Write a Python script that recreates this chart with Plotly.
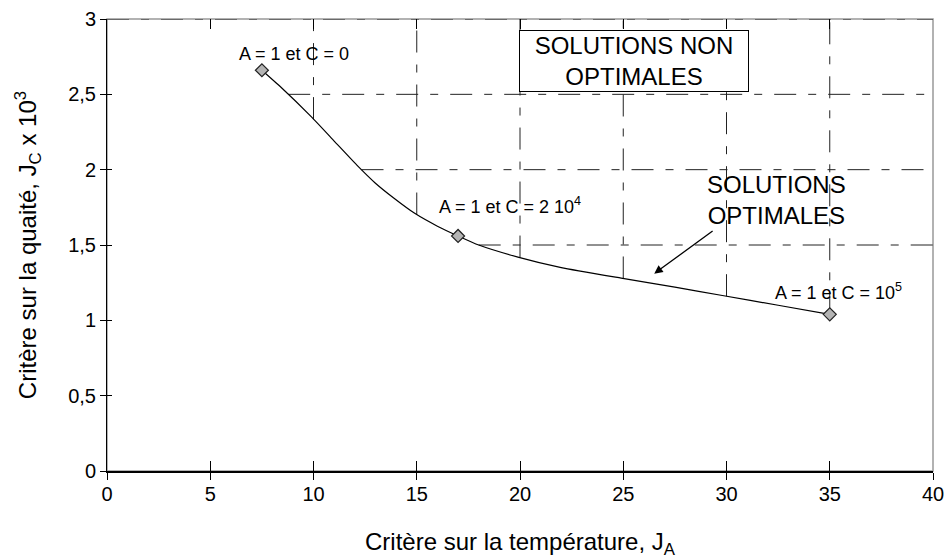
import numpy as np
import plotly.graph_objects as go

# ---- data ----
curve_x = [7.5, 8.4, 9.9, 11.0, 12.1, 13.0, 13.9, 14.9, 16.0, 17.0, 18.0, 19.9,
           22.0, 24.9, 27.5, 29.8, 32.5, 35.0]
curve_y = [2.66, 2.55, 2.35, 2.19, 2.03, 1.91, 1.81, 1.71, 1.625, 1.56, 1.50, 1.42,
           1.35, 1.28, 1.22, 1.165, 1.10, 1.04]

point_x = [7.5, 17.0, 35.0]
point_y = [2.66, 1.56, 1.04]
point_labels = ["A = 1 et C = 0", "A = 1 et C = 2 10<sup>4</sup>", "A = 1 et C = 10<sup>5</sup>"]
label_x = [9.06, 19.5, 35.4]
label_y = [2.77, 1.76, 1.19]

grid_vx = [10, 15, 20, 25, 30, 35]
grid_hy = [1.5, 2.0, 2.5]

x_range = [0, 40]
y_range = [0, 3]
x_ticks = [0, 5, 10, 15, 20, 25, 30, 35, 40]
y_ticks = [0, 0.5, 1, 1.5, 2, 2.5, 3]

FONT = "Arial, 'Liberation Sans', sans-serif"

cx = np.array(curve_x)
cy = np.array(curve_y)

# gridlines only in the region above the curve (non-optimal region)
gx, gy = [], []
for v in grid_vx:
    yb = float(np.interp(v, cx, cy))
    gx += [v, v, None]
    gy += [yb, y_range[1], None]
for h in grid_hy:
    xl = float(np.interp(h, cy[::-1], cx[::-1]))
    gx += [xl, x_range[1], None]
    gy += [h, h, None]
gx += [x_range[0], x_range[1], None]
gy += [y_range[1], y_range[1], None]

fig = go.Figure()

fig.add_trace(go.Scatter(
    x=gx, y=gy, mode="lines",
    line=dict(color="#222222", width=1, dash="22px,12px,8px,12px"),
    hoverinfo="skip", showlegend=False,
))

fig.add_trace(go.Scatter(
    x=curve_x, y=curve_y, mode="lines",
    line=dict(color="black", width=1.2, shape="spline", smoothing=0.5),
    hoverinfo="skip", showlegend=False,
))

fig.add_trace(go.Scatter(
    x=point_x, y=point_y, mode="markers",
    marker=dict(symbol="diamond", size=10, color="#b4b4b4",
                line=dict(color="#222222", width=1.2)),
    showlegend=False,
))

# dummy trace to activate overlay axes (crossing ticks)
fig.add_trace(go.Scatter(
    x=curve_x, y=curve_y, xaxis="x2", yaxis="y2", mode="lines",
    line=dict(color="rgba(0,0,0,0)"), hoverinfo="skip", showlegend=False,
))

for lx, ly, txt in zip(label_x, label_y, point_labels):
    fig.add_annotation(x=lx, y=ly, text=txt, showarrow=False,
                       font=dict(family=FONT, size=18, color="black"))

fig.add_annotation(x=25.5, y=2.72, text="SOLUTIONS NON<br>OPTIMALES", showarrow=False,
                   font=dict(family=FONT, size=24, color="black"),
                   bordercolor="black", borderwidth=1, bgcolor="white",
                   borderpad=1, width=226, align="center")

fig.add_annotation(x=32.4, y=1.80, text="SOLUTIONS<br>OPTIMALES", showarrow=False,
                   font=dict(family=FONT, size=24, color="black"), align="center")

fig.add_annotation(x=26.5, y=1.31, ax=29.4, ay=1.60, axref="x", ayref="y",
                   xref="x", yref="y", text="", showarrow=True,
                   arrowhead=2, arrowsize=1.3, arrowwidth=1.3, arrowcolor="black")

fig.add_shape(type="rect", xref="x domain", yref="y domain", x0=0, x1=1, y0=0, y1=1,
              line=dict(color="#999999", width=1.5), layer="below")

fig.update_layout(
    width=946, height=560,
    margin=dict(l=107, r=13, t=19, b=89),
    paper_bgcolor="white", plot_bgcolor="white",
    separators=", ",
    font=dict(family=FONT, size=20, color="black"),
    xaxis=dict(range=x_range, tickvals=x_ticks, ticks="outside", ticklen=7,
               tickcolor="black", showline=True, linecolor="black", linewidth=1.8,
               showgrid=False, zeroline=False, tickfont=dict(size=20), automargin=False,
               ticklabelstandoff=-3,
               title=dict(text="Critère sur la température, J<sub>A</sub>",
                          font=dict(size=24), standoff=29)),
    yaxis=dict(range=y_range, tickvals=y_ticks, ticks="outside", ticklen=6,
               tickcolor="black", showline=True, linecolor="black", linewidth=1,
               showgrid=False, zeroline=False, tickfont=dict(size=20), automargin=False,
               title=dict(text="Critère sur la quaité, J<sub>C</sub> x 10<sup>3</sup>",
                          font=dict(size=24), standoff=24)),
    xaxis2=dict(range=x_range, tickvals=x_ticks, overlaying="x", side="bottom",
                anchor="y2", ticks="inside", ticklen=10, tickcolor="black",
                mirror="ticks", showline=False, showticklabels=False,
                showgrid=False, zeroline=False),
    yaxis2=dict(range=y_range, tickvals=y_ticks, overlaying="y", side="left",
                anchor="x2", ticks="inside", ticklen=5, tickcolor="black",
                showline=False, showticklabels=False, showgrid=False, zeroline=False),
)

fig.write_html(
    "out.html",
    config={"displayModeBar": False},
    post_script="document.body.style.margin='0';document.body.style.overflow='hidden';",
)
